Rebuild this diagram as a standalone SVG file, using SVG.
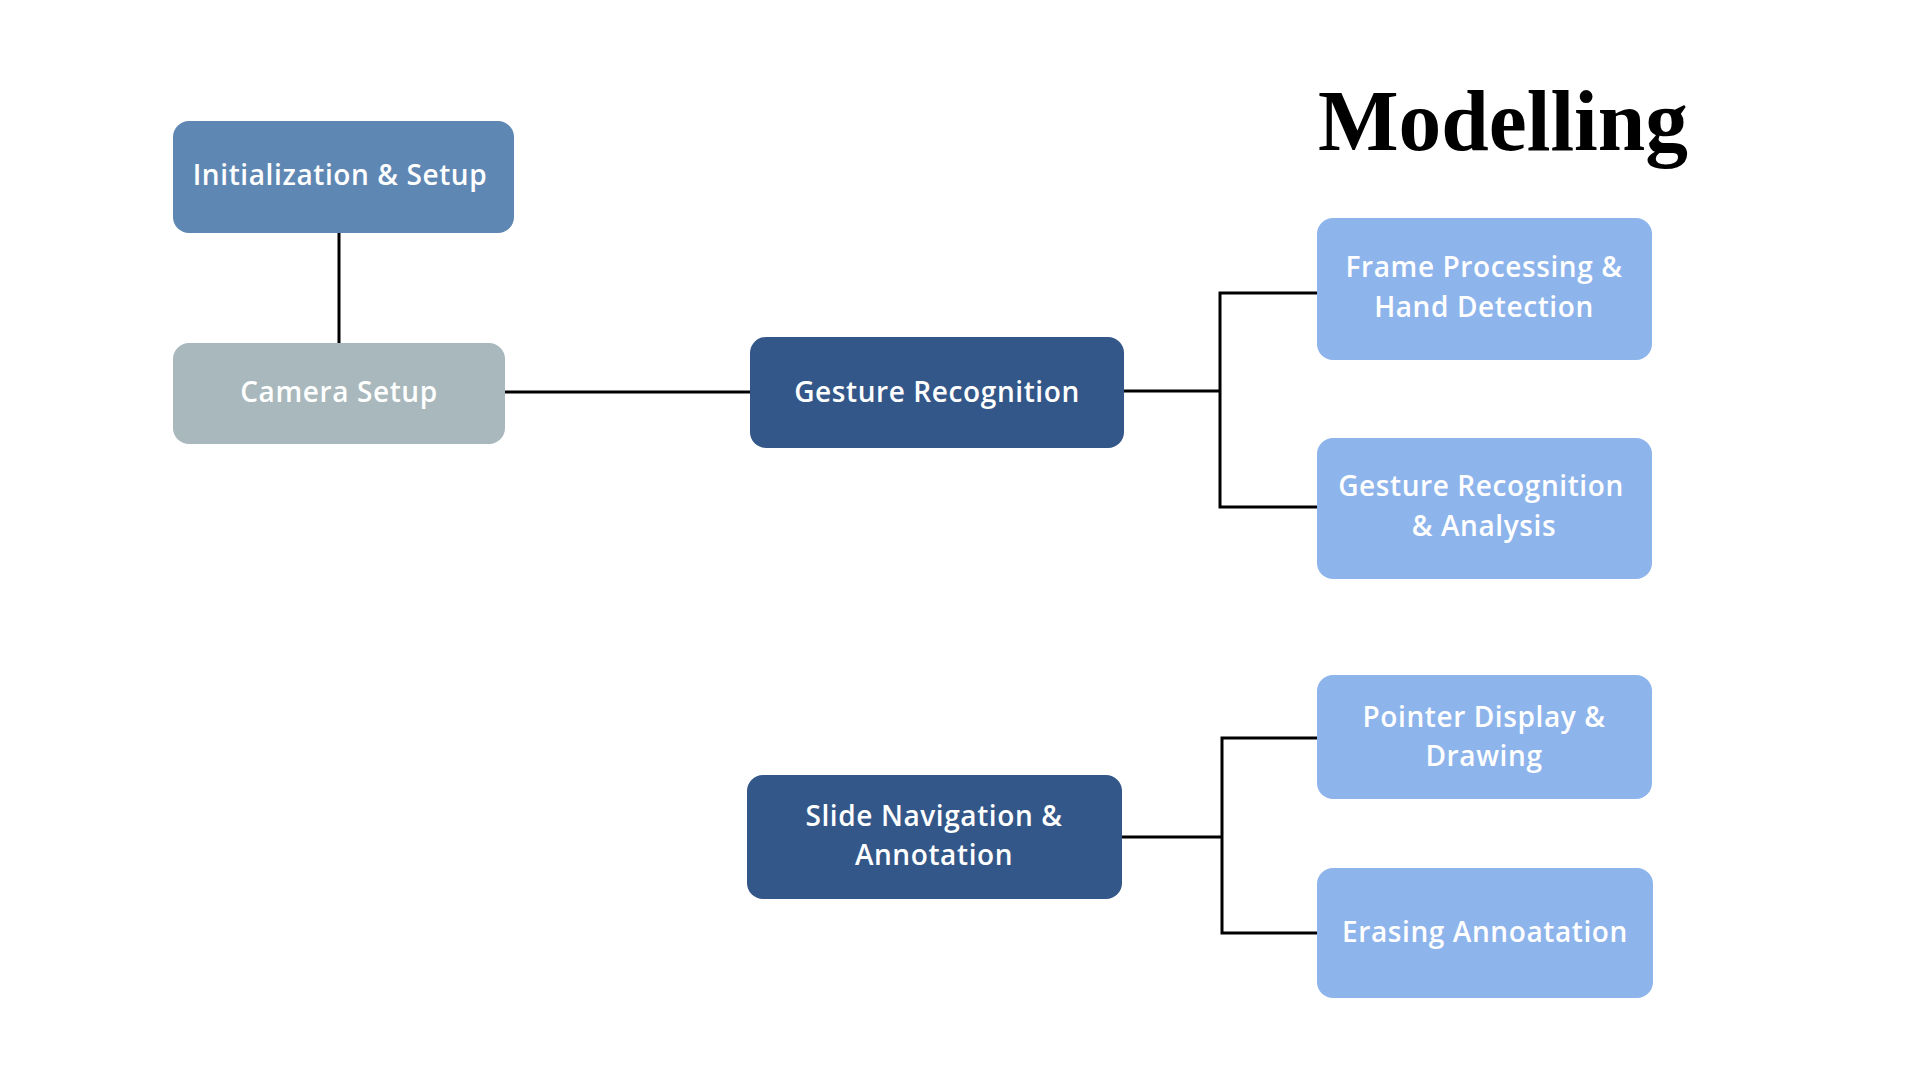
<svg xmlns="http://www.w3.org/2000/svg" width="1920" height="1080" viewBox="0 0 1920 1080">
<style>
.lbl{font-family:"Open Sans","DejaVu Sans",sans-serif;font-weight:600;font-size:28px;letter-spacing:0.6px;fill:#ffffff;text-anchor:middle}
.conn{stroke:#000000;stroke-width:3;fill:none;stroke-linecap:square}
.title{font-family:"Liberation Serif","Times New Roman",serif;font-weight:bold;font-size:86px;fill:#000000}
</style>
<rect width="1920" height="1080" fill="#ffffff"/>
<text class="title" x="1318" y="150" textLength="370" lengthAdjust="spacingAndGlyphs">Modelling</text>
<g id="connectors">
<path class="conn" d="M339 233 V343"/>
<path class="conn" d="M505 392 H750"/>
<path class="conn" d="M1124 391 H1220 M1220 293 V507 M1220 293 H1317 M1220 507 H1317"/>
<path class="conn" d="M1122 837 H1222 M1222 738 V933 M1222 738 H1317 M1222 933 H1317"/>
</g>
<g id="init">
<rect x="173" y="121" width="341" height="112" rx="16" fill="#5f87b3"/>
<text class="lbl" x="340" y="185">Initialization &amp; Setup</text>
</g>
<g id="camera">
<rect x="173" y="343" width="332" height="101" rx="16" fill="#a8b8bc"/>
<text class="lbl" x="339" y="402">Camera Setup</text>
</g>
<g id="gesture">
<rect x="750" y="337" width="374" height="111" rx="16" fill="#335789"/>
<text class="lbl" x="937" y="402">Gesture Recognition</text>
</g>
<g id="slide">
<rect x="747" y="775" width="375" height="124" rx="16" fill="#335789"/>
<text class="lbl" x="934" y="826">Slide Navigation &amp;</text>
<text class="lbl" x="934" y="865">Annotation</text>
</g>
<g id="frame">
<rect x="1317" y="218" width="335" height="142" rx="16" fill="#8eb4ec"/>
<text class="lbl" x="1484" y="277">Frame Processing &amp;</text>
<text class="lbl" x="1484" y="317">Hand Detection</text>
</g>
<g id="analysis">
<rect x="1317" y="438" width="335" height="141" rx="16" fill="#8eb4ec"/>
<text class="lbl" x="1481" y="496">Gesture Recognition</text>
<text class="lbl" x="1484" y="536">&amp; Analysis</text>
</g>
<g id="pointer">
<rect x="1317" y="675" width="335" height="124" rx="16" fill="#8eb4ec"/>
<text class="lbl" x="1484" y="727">Pointer Display &amp;</text>
<text class="lbl" x="1484" y="766">Drawing</text>
</g>
<g id="erasing">
<rect x="1317" y="868" width="336" height="130" rx="16" fill="#8eb4ec"/>
<text class="lbl" x="1485" y="942">Erasing Annoatation</text>
</g>
</svg>
